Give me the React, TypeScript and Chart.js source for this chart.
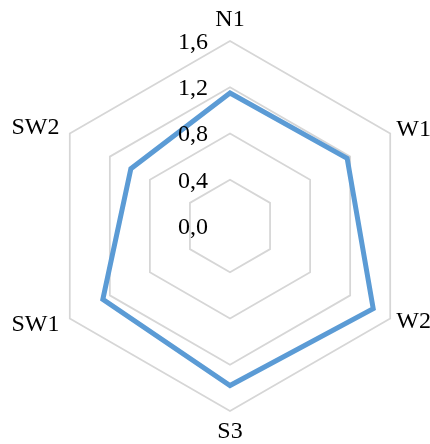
import React, { useEffect, useRef } from "react";
import { Chart, registerables } from "chart.js";

Chart.register(...registerables);

const CATEGORIES = ["N1", "W1", "W2", "S3", "SW1", "SW2"];
const SERIES_VALUES = [1.15, 1.17, 1.43, 1.38, 1.27, 0.99];
const TICK_VALUES = [0, 0.4, 0.8, 1.2, 1.6];
const TICK_LABELS = ["0,0", "0,4", "0,8", "1,2", "1,6"];

const FONT = '24px "Liberation Serif", "Times New Roman", serif';

const labelPlugin = {
  id: "customLabels",
  afterDatasetsDraw(chart: any) {
    const scale = chart.scales.r;
    const ctx = chart.ctx as CanvasRenderingContext2D;
    ctx.save();
    ctx.font = FONT;
    ctx.fillStyle = "#000000";
    ctx.textBaseline = "middle";
    ctx.textAlign = "right";
    TICK_VALUES.forEach((v, i) => {
      const d = scale.getDistanceFromCenterForValue(v);
      ctx.fillText(TICK_LABELS[i], scale.xCenter - 22, scale.yCenter - d + 1.5);
    });
    CATEGORIES.forEach((c, i) => {
      const angle = scale.getIndexAngle(i);
      const s = Math.sin(angle);
      if (Math.abs(s) < 0.1) {
        const p = scale.getPointPosition(i, scale.drawingArea + 21);
        ctx.textAlign = "center";
        ctx.fillText(c, p.x, p.y);
      } else {
        const p = scale.getPointPosition(i, scale.drawingArea + (s > 0 ? 7 : 12));
        ctx.textAlign = s > 0 ? "left" : "right";
        ctx.fillText(c, p.x, p.y);
      }
    });
    ctx.restore();
  },
};

export default function App() {
  const canvasRef = useRef<HTMLCanvasElement | null>(null);

  useEffect(() => {
    if (!canvasRef.current) return;
    const chart = new Chart(canvasRef.current, {
      type: "radar",
      data: {
        labels: CATEGORIES,
        datasets: [
          {
            data: SERIES_VALUES,
            borderColor: "#5B9BD5",
            borderWidth: 5,
            backgroundColor: "rgba(0,0,0,0)",
            fill: false,
            pointRadius: 0,
            pointHoverRadius: 0,
            tension: 0,
            borderJoinStyle: "miter",
          },
        ],
      },
      options: {
        animation: false,
        responsive: true,
        maintainAspectRatio: false,
        layout: { padding: { left: 45, right: 15, top: 41, bottom: 33 } },
        plugins: {
          legend: { display: false },
          tooltip: { enabled: false },
        },
        scales: {
          r: {
            min: 0,
            max: 1.6,
            beginAtZero: true,
            ticks: { display: false, stepSize: 0.4 },
            pointLabels: { display: false },
            angleLines: { display: false },
            grid: { color: "#d6d6d6", lineWidth: 1.75 },
          },
        },
      },
      plugins: [labelPlugin],
    });
    return () => chart.destroy();
  }, []);

  return (
    <div style={{ position: "absolute", left: 0, top: 0, width: 430, height: 444, background: "#ffffff" }}>
      <canvas ref={canvasRef} />
    </div>
  );
}
